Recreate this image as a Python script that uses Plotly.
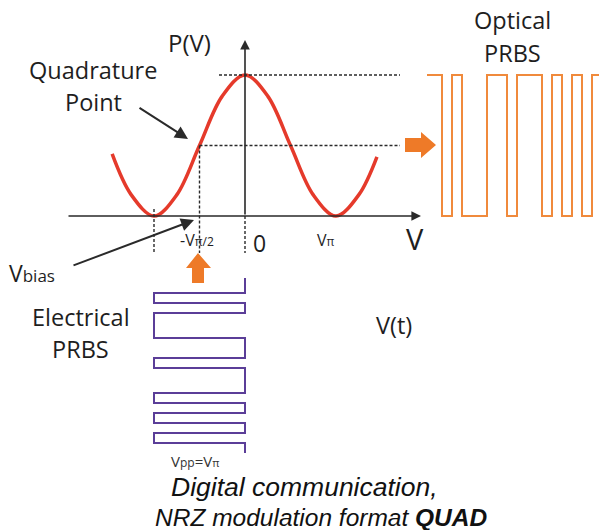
import plotly.graph_objects as go

W, H = 599, 530

# ---------------- data ----------------
# transfer curve P(V), V in units of V_pi
curve_v = [-1.46, -1.25, -1.0, -0.75, -0.5, -0.25, 0.0, 0.25, 0.5, 0.75, 1.0, 1.25, 1.45]
curve_p = [0.44, 0.15, 0.0, 0.15, 0.5, 0.85, 1.0, 0.85, 0.5, 0.15, 0.0, 0.15, 0.42]

# PRBS bit pattern (transition times in bit units and levels)
prbs_times = [0, 1.5, 2.5, 3.5, 6, 8, 9, 11.5, 12.5, 13.5, 14.5, 15.5, 16.5, 17.5]
prbs_levels = [1, 0, 1, 0, 1, 0, 1, 0, 1, 0, 1, 0, 1, 1]
elec_v = [lv - 1 for lv in prbs_levels]  # 1 -> 0 V, 0 -> -V_pi

# labels
lbl_pv = "P(V)"
lbl_quad = ["Quadrature", "Point"]
lbl_vbias = "V<span style='font-size:17px'>bias</span>"
lbl_elec = ["Electrical", "PRBS"]
lbl_opt = ["Optical", "PRBS"]
lbl_vt = "V(t)"
lbl_vpp = "V<span style='font-size:12px'>pp</span>=V<span style='font-size:11px'>π</span>"
tick_mvpi2 = "-V<span style='font-size:12px'>π/2</span>"
tick_zero = "0"
tick_vpi = "V<span style='font-size:12px'>π</span>"
lbl_vaxis = "V"
caption1 = "Digital communication,"
caption2 = "NRZ modulation format <b>QUAD</b>"

RED = "#e53a2b"
ORANGE = "#f08a3c"
ORANGE_FILL = "#ee7a28"
PURPLE = "#5b3e98"
INK = "#1e1e1e"
AX = "#2a2a2a"

# pixel helpers for layout placement
def px(x):
    return x / W

def py(y):
    return 1 - y / H

V_UNIT = 91.0   # px per V_pi
P_UNIT = 141.0  # px per unit power
X0, Y0 = 245.0, 216.0

fig = go.Figure()

fig.add_trace(go.Scatter(
    x=curve_v, y=curve_p, mode="lines",
    line=dict(color=RED, width=3.5, shape="spline", smoothing=1.0),
    hoverinfo="skip", showlegend=False))

fig.add_trace(go.Scatter(
    x=prbs_times, y=prbs_levels, xaxis="x2", yaxis="y", mode="lines",
    line=dict(color=ORANGE, width=2, shape="hv"),
    hoverinfo="skip", showlegend=False))

fig.add_trace(go.Scatter(
    x=elec_v, y=prbs_times, xaxis="x", yaxis="y3", mode="lines",
    line=dict(color=PURPLE, width=2, shape="vh"),
    hoverinfo="skip", showlegend=False))

shapes = []
DASH = "3px,2px"
def dline(x0, y0, x1, y1):
    shapes.append(dict(type="line", xref="x", yref="y", x0=x0, y0=y0, x1=x1, y1=y1,
                       line=dict(color=AX, width=1.4, dash=DASH)))

p_low = (Y0 - 253) / P_UNIT
v_right = (400 - X0) / V_UNIT
dline((219 - X0) / V_UNIT, 1.0, v_right, 1.0)
dline(-0.5, 0.5, v_right, 0.5)
dline(-0.5, 0.5, -0.5, p_low)
dline(-1.0, 0.05, -1.0, p_low)
dline(0.0, 0.0, 0.0, p_low)

# orange block arrows (paper coords from pixel layout)
def poly(pts):
    d = "M " + " L ".join(f"{px(a):.5f},{py(b):.5f}" for a, b in pts) + " Z"
    shapes.append(dict(type="path", xref="paper", yref="paper", path=d,
                       fillcolor=ORANGE_FILL, line=dict(width=0)))

poly([(405, 138), (421, 138), (421, 132), (436, 145), (421, 158), (421, 152), (405, 152)])
poly([(192, 283), (192, 268), (186, 268), (198, 253), (211, 268), (204, 268), (204, 283)])

annotations = []

def arrow(x_tail, y_tail, x_head, y_head, size=1.0, width=1.8, head=2):
    annotations.append(dict(x=x_head, y=y_head, ax=x_tail, ay=y_tail,
                            xref="x", yref="y", axref="x", ayref="y",
                            text="", showarrow=True, arrowhead=head, arrowsize=size,
                            arrowwidth=width, arrowcolor=AX, standoff=0, startstandoff=0))

# axes
arrow((67 - X0) / V_UNIT, 0.0, (421 - X0) / V_UNIT, 0.0, size=1.2, width=1.6)
arrow(0.0, 0.0, 0.0, (Y0 - 40) / P_UNIT, size=1.2, width=1.6)
# pointers
arrow((138 - X0) / V_UNIT, (Y0 - 107) / P_UNIT, (188 - X0) / V_UNIT, (Y0 - 139) / P_UNIT,
      size=1.3, width=2)
arrow((72 - X0) / V_UNIT, (Y0 - 266) / P_UNIT, (194 - X0) / V_UNIT, (Y0 - 220) / P_UNIT,
      size=1.3, width=2)

SANS = "Open Sans, Noto Sans, sans-serif"

def label(text, x, y, size, xanchor="center", family=SANS, color=INK):
    annotations.append(dict(text=text, x=px(x), y=py(y), xref="paper", yref="paper",
                            xanchor=xanchor, yanchor="middle", showarrow=False,
                            font=dict(family=family, size=size, color=color)))

label(lbl_pv, 189, 43, 24)
label(lbl_quad[0], 93, 70, 23.5)
label(lbl_quad[1], 93, 102, 23.5)
label(tick_mvpi2, 197, 240, 16)
label(tick_zero, 259, 243, 23)
label(tick_vpi, 326, 240, 16)
label(lbl_vaxis, 415, 238, 29)
label(lbl_vbias, 7, 273, 23, xanchor="left")
label(lbl_elec[0], 81, 317, 23.5)
label(lbl_elec[1], 81, 349, 23.5)
label(lbl_opt[0], 512, 20, 23.5)
label(lbl_opt[1], 512, 53, 23.5)
label(lbl_vt, 394, 325, 23.5)
label(lbl_vpp, 195, 461, 15, color="#333333")
CAP = "Liberation Sans, Arial, sans-serif"
label(f"<i>{caption1}</i>", 304, 487, 26.5, family=CAP, color="#111111")
label(f"<i>{caption2}</i>", 321, 517, 24.5, family=CAP, color="#111111")

fig.update_layout(
    width=W, height=H, margin=dict(l=0, r=0, t=0, b=0),
    paper_bgcolor="white", plot_bgcolor="white",
    xaxis=dict(range=[-X0 / V_UNIT, (W - X0) / V_UNIT], visible=False, fixedrange=True),
    yaxis=dict(range=[(Y0 - H) / P_UNIT, Y0 / P_UNIT], visible=False, fixedrange=True),
    xaxis2=dict(range=[-42.7, 17.2], overlaying="x", anchor="y", visible=False),
    yaxis3=dict(range=[25.2, -27.8], overlaying="y", anchor="x", visible=False),
    shapes=shapes, annotations=annotations, showlegend=False,
)

fig.write_html("out.html", config={"displayModeBar": False},
               post_script="document.body.style.margin='0';document.body.style.overflow='hidden';")
